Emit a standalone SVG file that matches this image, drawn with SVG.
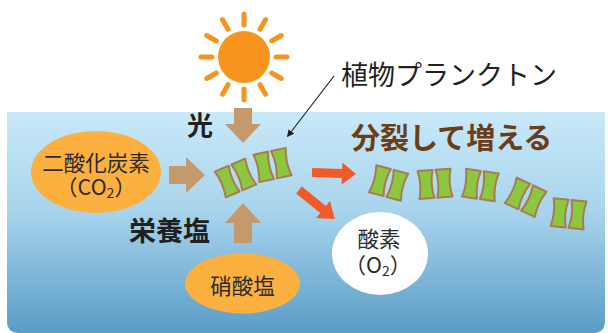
<svg xmlns="http://www.w3.org/2000/svg" xmlns:xlink="http://www.w3.org/1999/xlink" width="608" height="333" viewBox="0 0 608 333">
  <defs>
    <linearGradient id="water" x1="0" y1="112" x2="0" y2="333" gradientUnits="userSpaceOnUse">
      <stop offset="0" stop-color="#c8e9f8"/>
      <stop offset="0.45" stop-color="#a8d4ec"/>
      <stop offset="1" stop-color="#5a9cc7"/>
    </linearGradient>
    <!-- one diatom-like cell with concave sides -->
    <path id="cell" d="M-7.5,-14 L7.5,-14 Q4,0 7.5,14 L-7.5,14 Q-4,0 -7.5,-14 Z"/>
    <g id="pair">
      <use xlink:href="#cell" href="#cell" transform="translate(-9,0)"/>
      <use xlink:href="#cell" href="#cell" transform="translate(9,0)"/>
    </g>
    <marker id="tip" viewBox="0 0 10 10" refX="9" refY="5" markerWidth="7" markerHeight="7" orient="auto" markerUnits="userSpaceOnUse">
      <path d="M0,0 L10,5 L0,10 Z" fill="#231f20"/>
    </marker>
  </defs>
  <style>
    .jp { font-family: "Noto Sans CJK JP", "Noto Sans", sans-serif; }
    .label { fill: #2b2b2b; font-size: 21.5px; }
    .bold { fill: #231f20; font-weight: 700; }
    .brownArrow { fill: #c49a6c; }
    .redArrow { fill: #f15a29; }
    .plankton use { fill: #8dc63f; stroke: #a97c50; stroke-width: 2; stroke-linejoin: round; }
    .ray { stroke: #f7941d; stroke-width: 5; stroke-linecap: round; }
  </style>

  <!-- sea -->
  <path d="M7,112 H605 V321 Q605,333 593,333 H19 Q7,333 7,321 Z" fill="url(#water)"/>

  <!-- sun -->
  <g id="sun">
    <circle cx="244" cy="57" r="26" fill="#f7941d"/>
    <g transform="translate(244,57)">
      <line class="ray" x1="0" y1="-32" x2="0" y2="-43"/>
      <line class="ray" x1="0" y1="-32" x2="0" y2="-43" transform="rotate(30)"/>
      <line class="ray" x1="0" y1="-32" x2="0" y2="-43" transform="rotate(60)"/>
      <line class="ray" x1="0" y1="-32" x2="0" y2="-43" transform="rotate(90)"/>
      <line class="ray" x1="0" y1="-32" x2="0" y2="-43" transform="rotate(120)"/>
      <line class="ray" x1="0" y1="-32" x2="0" y2="-43" transform="rotate(150)"/>
      <line class="ray" x1="0" y1="-32" x2="0" y2="-43" transform="rotate(180)"/>
      <line class="ray" x1="0" y1="-32" x2="0" y2="-43" transform="rotate(210)"/>
      <line class="ray" x1="0" y1="-32" x2="0" y2="-43" transform="rotate(240)"/>
      <line class="ray" x1="0" y1="-32" x2="0" y2="-43" transform="rotate(270)"/>
      <line class="ray" x1="0" y1="-32" x2="0" y2="-43" transform="rotate(300)"/>
      <line class="ray" x1="0" y1="-32" x2="0" y2="-43" transform="rotate(330)"/>
    </g>
  </g>

  <!-- inputs -->
  <g id="co2">
    <ellipse cx="96" cy="172" rx="65" ry="41" fill="#fbb040"/>
    <text class="jp label" x="96" y="171" text-anchor="middle">二酸化炭素</text>
    <text class="jp label" x="96" y="195" text-anchor="middle">（CO<tspan font-size="14" dy="3">2</tspan><tspan dy="-3">）</tspan></text>
  </g>
  <g id="nitrate">
    <ellipse cx="242.5" cy="283.5" rx="57.5" ry="30" fill="#fbb040"/>
    <text class="jp label" x="242.5" y="294" text-anchor="middle">硝酸塩</text>
  </g>
  <g id="oxygen">
    <ellipse cx="380" cy="253.5" rx="48" ry="41.5" fill="#ffffff"/>
    <text class="jp label" x="379" y="247" text-anchor="middle">酸素</text>
    <text class="jp label" x="378" y="273" text-anchor="middle">（O<tspan font-size="14" dy="3">2</tspan><tspan dy="-3">）</tspan></text>
  </g>

  <!-- labels -->
  <text class="jp bold" x="187" y="135" font-size="26">光</text>
  <text class="jp bold" x="129" y="241" font-size="27">栄養塩</text>
  <text class="jp" x="341" y="85" font-size="27" fill="#231f20">植物プランクトン</text>
  <text class="jp" x="351" y="149" font-size="29" font-weight="700" fill="#6b3e17">分裂して増える</text>

  <!-- plankton near the inputs -->
  <g id="plankton-center" class="plankton">
    <use xlink:href="#pair" href="#pair" transform="translate(235.5,178) rotate(-23)"/>
    <use xlink:href="#pair" href="#pair" transform="translate(272.5,165) rotate(-12)"/>
  </g>

  <!-- plankton after division -->
  <g id="plankton-divided" class="plankton">
    <use xlink:href="#pair" href="#pair" transform="translate(388.6,183) rotate(15)"/>
    <use xlink:href="#pair" href="#pair" transform="translate(435,183.8) rotate(-4)"/>
    <use xlink:href="#pair" href="#pair" transform="translate(480.4,185) rotate(8)"/>
    <use xlink:href="#pair" href="#pair" transform="translate(525.7,197.3) rotate(25)"/>
    <use xlink:href="#pair" href="#pair" transform="translate(568.6,213.8) rotate(6)"/>
  </g>

  <!-- connectors -->
  <g id="connectors">
    <polygon class="brownArrow" points="234,108 252,108 252,124 261,124 243,143 225,124 234,124"/>
    <polygon class="brownArrow" points="243,203 261,223 252,223 252,243 234,243 234,223 225,223"/>
    <polygon class="brownArrow" points="169,166 186,166 186,157 205,175 186,193 186,184 169,184"/>
    <polygon class="redArrow" points="0,-4.5 30,-4.5 30,-11 44,0 30,11 30,4.5 0,4.5" transform="translate(312,172.5) rotate(2)"/>
    <polygon class="redArrow" points="0,-4.5 31,-4.5 31,-11 46,0 31,11 31,4.5 0,4.5" transform="translate(299,190) rotate(39)"/>
    <line x1="334" y1="76" x2="287.5" y2="136.5" stroke="#231f20" stroke-width="1.2" marker-end="url(#tip)"/>
  </g>
</svg>
